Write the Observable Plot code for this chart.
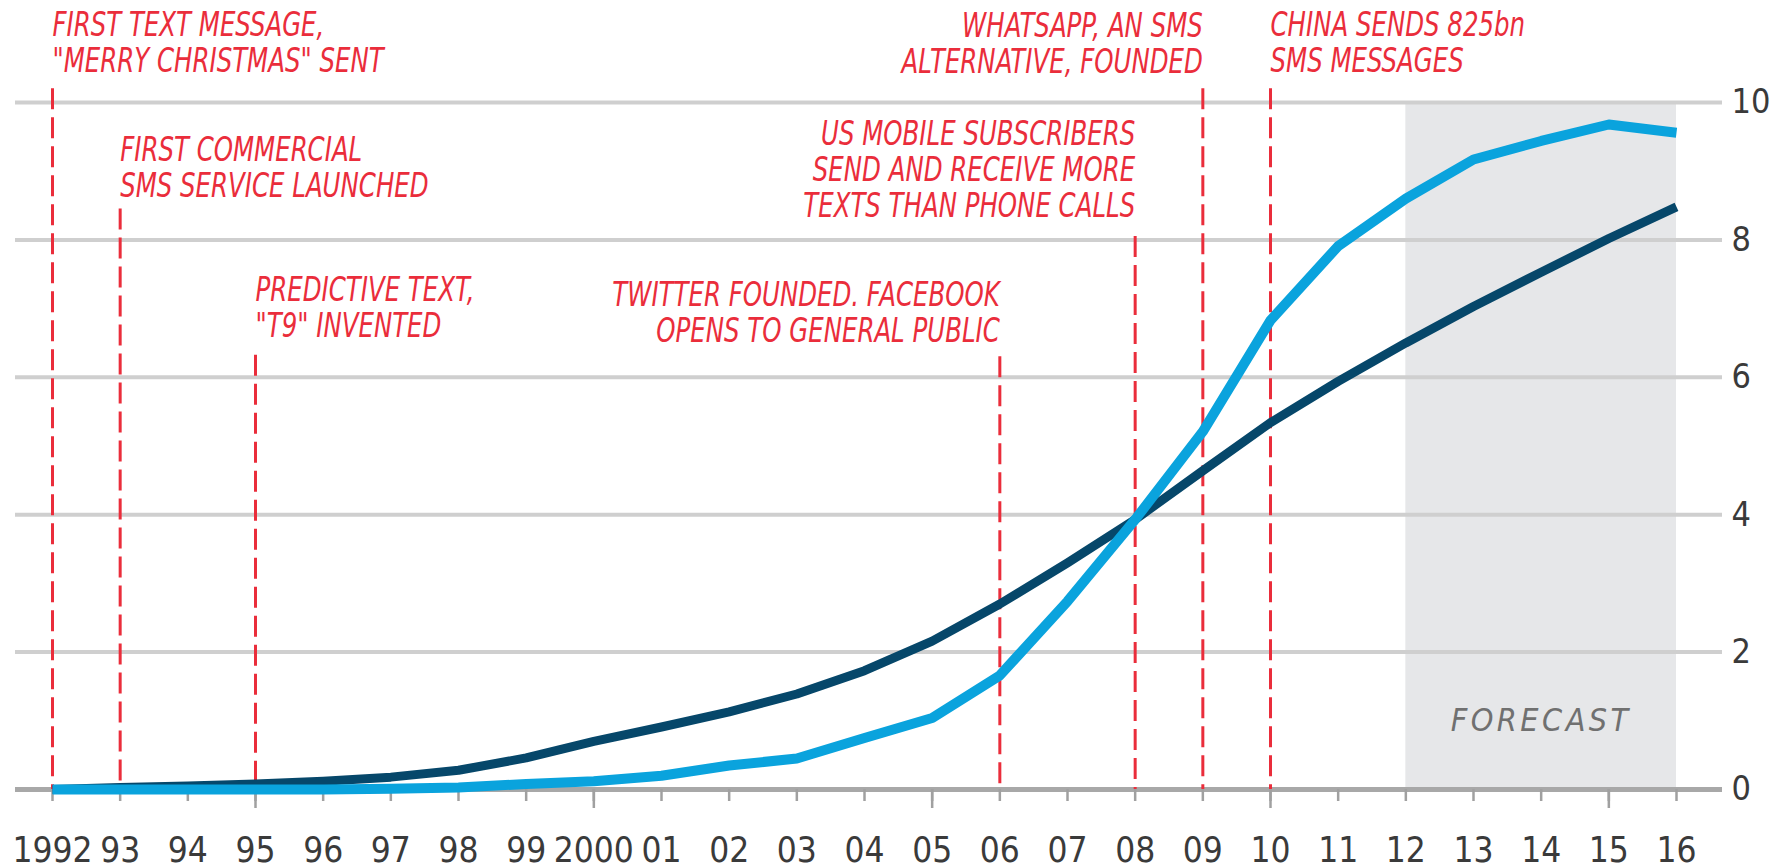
<!DOCTYPE html>
<html>
<head>
<meta charset="utf-8">
<script src="https://cdn.jsdelivr.net/npm/d3@7"></script>
<script src="https://cdn.jsdelivr.net/npm/@observablehq/plot@0.6"></script>
<style>
  html, body { margin: 0; padding: 0; background: #ffffff; }
  #chart svg { display: block; }
</style>
</head>
<body>
<div id="chart"></div>
<script>
// ---------- data ----------
const years = [1992, 1993, 1994, 1995, 1996, 1997, 1998, 1999, 2000, 2001, 2002, 2003, 2004,
               2005, 2006, 2007, 2008, 2009, 2010, 2011, 2012, 2013, 2014, 2015, 2016];
const xTickLabels = ["1992", "93", "94", "95", "96", "97", "98", "99", "2000", "01", "02", "03", "04",
                     "05", "06", "07", "08", "09", "10", "11", "12", "13", "14", "15", "16"];
const majorTickYears = [1995, 2000, 2005, 2010, 2015];
const yTicks = [0, 2, 4, 6, 8, 10];

// dark series
const seriesDark = [0, 0.03, 0.05, 0.08, 0.12, 0.18, 0.28, 0.46, 0.70, 0.91, 1.13, 1.39, 1.73,
                    2.16, 2.70, 3.30, 3.93, 4.64, 5.34, 5.94, 6.50, 7.03, 7.53, 8.02, 8.48];
// light-blue series
const seriesLight = [0, 0, 0, 0, 0, 0.01, 0.03, 0.08, 0.12, 0.20, 0.35, 0.45, 0.75,
                     1.04, 1.66, 2.74, 3.93, 5.21, 6.83, 7.91, 8.60, 9.17, 9.44, 9.68, 9.56];

const forecastYears = [2012, 2016];
const forecastLabel = "FORECAST";
const forecastLabelLevel = 1.0;

const eventYears = [1992, 1993, 1995, 2006, 2008, 2009, 2010];
const eventLabels = [
  "FIRST TEXT MESSAGE,\n\"MERRY CHRISTMAS\" SENT",
  "FIRST COMMERCIAL\nSMS SERVICE LAUNCHED",
  "PREDICTIVE TEXT,\n\"T9\" INVENTED",
  "TWITTER FOUNDED. FACEBOOK\nOPENS TO GENERAL PUBLIC",
  "US MOBILE SUBSCRIBERS\nSEND AND RECEIVE MORE\nTEXTS THAN PHONE CALLS",
  "WHATSAPP, AN SMS\nALTERNATIVE, FOUNDED",
  "CHINA SENDS 825bn\nSMS MESSAGES"
];
const eventAnchors = ["start", "start", "start", "end", "end", "end", "start"];
const eventLabelLevels = [10.44, 8.63, 6.58, 6.51, 8.33, 10.43, 10.44];  // y value of last text line
const eventLeaderTops  = [10.2, 8.45, 6.32, 6.30, 8.05, 10.2, 10.2];    // y value where leader starts

// ---------- tables ----------
const darkData = years.map((year, i) => ({year, value: seriesDark[i]}));
const lightData = years.map((year, i) => ({year, value: seriesLight[i]}));
const events = eventYears.map((year, i) => ({
  year, label: eventLabels[i], anchor: eventAnchors[i],
  level: eventLabelLevels[i], top: eventLeaderTops[i]
}));
const forecast = [{start: forecastYears[0], end: forecastYears[1]}];

// ---------- styles ----------
const RED = "#ea2d3b";
const DARK = "#06476a";
const LIGHT = "#0aa3dd";
const GRID = "#cfcfcf";
const BASE = "#a8a8a8";
const LABEL = "#3a3a3a";
const FONT = "'DejaVu Sans Condensed', 'DejaVu Sans', sans-serif";

const chart = Plot.plot({
  width: 1783,
  height: 868,
  marginLeft: 52,
  marginRight: 107,
  marginTop: 102,
  marginBottom: 79,
  x: {domain: [years[0], years[years.length - 1]]},
  y: {domain: [0, 10]},
  style: {fontFamily: FONT, fontSize: "34px", color: LABEL, background: "#ffffff", overflow: "visible"},
  marks: [
    // forecast shading
    Plot.rect(forecast, {x1: "start", x2: "end", y1: 0, y2: 10, fill: "#e6e7e9"}),
    // gridlines
    Plot.ruleY(yTicks.filter(d => d > 0), {stroke: GRID, strokeWidth: 4, insetLeft: -37, insetRight: -46}),
    // baseline
    Plot.ruleY([0], {stroke: BASE, strokeWidth: 5, insetLeft: -37, insetRight: -46}),
    // event leaders
    Plot.ruleX(events, {x: "year", y1: "top", y2: 0, stroke: RED, strokeWidth: 3, strokeDasharray: "21,8"}),
    // ticks
    Plot.axisX({ticks: years, tickSize: 12, tickFormat: () => "", stroke: "#a0a0a0", strokeWidth: 2.5, label: null}),
    Plot.axisX({ticks: majorTickYears, tickSize: 19, tickFormat: () => "", stroke: "#a0a0a0", strokeWidth: 2.5, label: null}),
    // tick labels
    Plot.axisX({ticks: years, tickSize: 0, tickPadding: 48, tickFormat: d => xTickLabels[years.indexOf(d)],
                fontSize: 35, fill: LABEL, label: null}),
    Plot.axisY({anchor: "right", ticks: yTicks, tickSize: 0, tickPadding: 55, fontSize: 34, fill: LABEL, label: null}),
    // series
    Plot.line(darkData, {x: "year", y: "value", stroke: DARK, strokeWidth: 9, strokeLinecap: "butt"}),
    Plot.line(lightData, {x: "year", y: "value", stroke: LIGHT, strokeWidth: 10, strokeLinecap: "butt"}),
    // annotations
    Plot.text(events.filter(d => d.anchor === "start"), {
      x: "year", y: "level", text: "label", textAnchor: "start", lineAnchor: "bottom",
      lineHeight: 1.06, fontSize: 34, fontStyle: "italic", fill: RED, fontFamily: FONT,
      ariaDescription: "annotation"
    }),
    Plot.text(events.filter(d => d.anchor === "end"), {
      x: "year", y: "level", text: "label", textAnchor: "end", lineAnchor: "bottom",
      lineHeight: 1.06, fontSize: 34, fontStyle: "italic", fill: RED, fontFamily: FONT,
      ariaDescription: "annotation"
    }),
    Plot.text([forecastLabel], {
      x: () => (forecastYears[0] + forecastYears[1]) / 2, y: () => forecastLabelLevel,
      text: d => d, textAnchor: "middle", fontSize: 32, fontStyle: "italic", fill: "#707070",
      fontFamily: FONT, ariaDescription: "forecast"
    })
  ]
});

// narrow the annotation lettering (condensed house font)
d3.select(chart).selectAll('g[aria-description="annotation"] text').each(function () {
  const t = this.getAttribute("transform") || "";
  this.setAttribute("transform", t + " scale(0.8,1)");
});
d3.select(chart).selectAll('g[aria-description="forecast"] text').attr("letter-spacing", 3.5);

document.getElementById("chart").appendChild(chart);
</script>
</body>
</html>
